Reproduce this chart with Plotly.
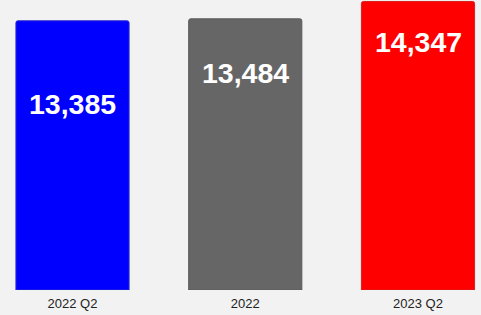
import plotly.graph_objects as go

categories = ["2022 Q2", "2022", "2023 Q2"]
values = [13385, 13484, 14347]
value_labels = ["13,385", "13,484", "14,347"]

bar_colors = ["#0000ff", "#666666", "#ff0000"]
edge_colors = ["#2a2ad0", "#5a5a5a", "#d82020"]
label_frac = [0.69, 0.80, 0.86]  # vertical position of label inside bar (fraction of value)

fig = go.Figure()
fig.add_trace(go.Bar(
    x=categories, y=values, width=0.655,
    marker=dict(color=bar_colors, line=dict(color=edge_colors, width=1), cornerradius=2),
    hoverinfo="skip",
))
for i, (v, t, f) in enumerate(zip(values, value_labels, label_frac)):
    fig.add_annotation(x=i, y=v * f, text=t, showarrow=False,
                       font=dict(family="Liberation Sans", size=28.5, color="white", weight="bold"))

fig.update_layout(
    width=481, height=315,
    margin=dict(l=0, r=0, t=0, b=25),
    paper_bgcolor="#f2f2f2", plot_bgcolor="#f2f2f2",
    showlegend=False,
    hovermode=False,
    xaxis=dict(type="category", range=[-0.4197, 2.3647], showgrid=False, zeroline=False, showline=False,
               ticks="", ticklabelstandoff=4,
               tickfont=dict(family="Liberation Sans", size=13, color="#222222")),
    yaxis=dict(range=[0, 14420], visible=False),
)
fig.write_html("out.html", config={"displayModeBar": False},
               post_script="document.body.style.margin='0';")
